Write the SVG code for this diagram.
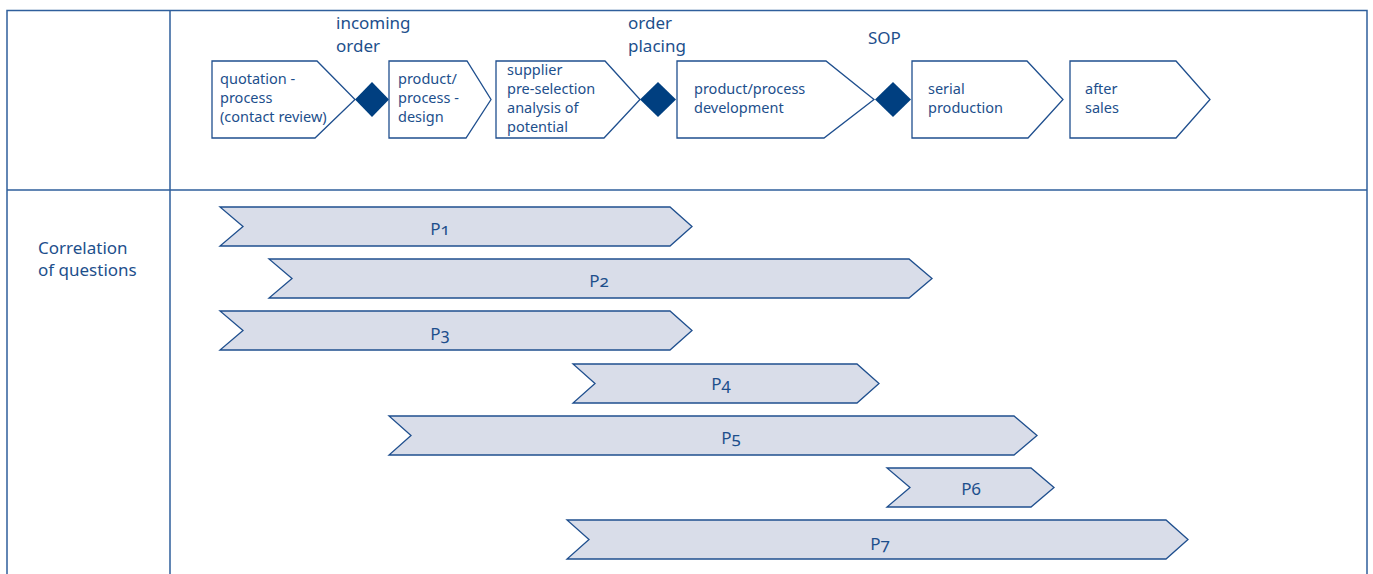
<svg xmlns="http://www.w3.org/2000/svg" width="1373" height="574" viewBox="0 0 1373 574">
<style>
text{font-family:"Noto Sans","Open Sans",sans-serif;fill:#1d4f8c}
.grid{fill:none;stroke:#2f5f9c;stroke-width:1.5}
.step{fill:#fff;stroke:#1f4f8e;stroke-width:1.3;stroke-linejoin:miter}
.ms{fill:#003f80}
.bar{fill:#d9dde9;stroke:#1f4f8e;stroke-width:1.3}
.t{font-size:14.5px}
.h{font-size:17px}
.p{font-size:17px;text-anchor:middle;font-variant-numeric:oldstyle-nums;font-feature-settings:"onum"}
</style>
<rect width="1373" height="574" fill="#fff"/>
<g id="table">
<path class="grid" d="M7,575 V10.5 H1367 V575 M170,10.5 V575 M7,190 H1367"/>
</g>
<g id="header-labels">
<text class="h" x="336" y="29">incoming</text>
<text class="h" x="336" y="52">order</text>
<text class="h" x="628" y="29">order</text>
<text class="h" x="628" y="52">placing</text>
<text class="h" x="868" y="44">SOP</text>
</g>
<g id="step-quotation">
<path class="step" d="M212,61 H317 L355,99.5 L315,138 H212 Z"/>
<text class="t" x="220" y="84">quotation -</text>
<text class="t" x="220" y="103">process</text>
<text class="t" x="220" y="122">(contact review)</text>
</g>
<g id="ms-incoming-order"><path class="ms" d="M372,82 L389,99.5 L372,117 L355,99.5 Z"/></g>
<g id="step-design">
<path class="step" d="M389,61 H467 L491,99.5 L466,138 H389 Z"/>
<text class="t" x="398" y="84">product/</text>
<text class="t" x="398" y="103">process -</text>
<text class="t" x="398" y="122">design</text>
</g>
<g id="step-supplier">
<path class="step" d="M496,61 H605 L640,99.5 L604,138 H496 Z"/>
<text class="t" x="507" y="75">supplier</text>
<text class="t" x="507" y="94">pre-selection</text>
<text class="t" x="507" y="113">analysis of</text>
<text class="t" x="507" y="132">potential</text>
</g>
<g id="ms-order-placing"><path class="ms" d="M658,82 L676,99.5 L658,117 L640,99.5 Z"/></g>
<g id="step-development">
<path class="step" d="M677,61 H826 L874,99.5 L824,138 H677 Z"/>
<text class="t" x="694" y="94">product/process</text>
<text class="t" x="694" y="113">development</text>
</g>
<g id="ms-sop"><path class="ms" d="M893,82 L911,99.5 L893,117 L875,99.5 Z"/></g>
<g id="step-serial">
<path class="step" d="M912,61 H1027 L1063,99.5 L1028,138 H912 Z"/>
<text class="t" x="928" y="94">serial</text>
<text class="t" x="928" y="113">production</text>
</g>
<g id="step-after-sales">
<path class="step" d="M1070,61 H1176 L1210,99.5 L1176,138 H1070 Z"/>
<text class="t" x="1085" y="94">after</text>
<text class="t" x="1085" y="113">sales</text>
</g>
<g id="row-label">
<text class="h" x="38" y="254">Correlation</text>
<text class="h" x="38" y="276">of questions</text>
</g>
<g id="connectors"></g>
<g id="P1">
<path class="bar" d="M220,207 H670 L692,226.5 L670,246 H220 L243,226.5 Z"/>
<text class="p" x="440" y="235">P1</text>
</g>
<g id="P2">
<path class="bar" d="M269,259 H909 L932,278.5 L909,298 H269 L292,278.5 Z"/>
<text class="p" x="599" y="287">P2</text>
</g>
<g id="P3">
<path class="bar" d="M220,311 H670 L692,330.5 L670,350 H220 L243,330.5 Z"/>
<text class="p" x="440" y="340">P3</text>
</g>
<g id="P4">
<path class="bar" d="M573,364 H857 L879,383.5 L857,403 H573 L595,383.5 Z"/>
<text class="p" x="721" y="390">P4</text>
</g>
<g id="P5">
<path class="bar" d="M389,416 H1014 L1037,435.5 L1014,455 H389 L411,435.5 Z"/>
<text class="p" x="731" y="444">P5</text>
</g>
<g id="P6">
<path class="bar" d="M887,468 H1031 L1054,487.5 L1031,507 H887 L910,487.5 Z"/>
<text class="p" x="971" y="495">P6</text>
</g>
<g id="P7">
<path class="bar" d="M567,520 H1166 L1188,539.5 L1166,559 H567 L589,539.5 Z"/>
<text class="p" x="880" y="550">P7</text>
</g>
</svg>
